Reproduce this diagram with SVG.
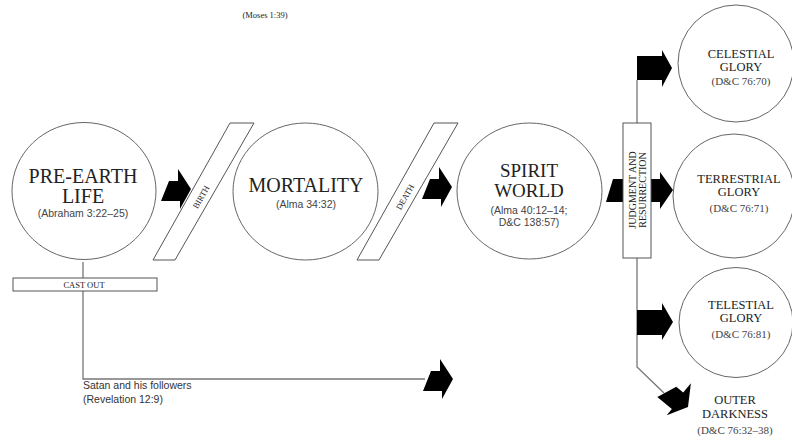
<svg xmlns="http://www.w3.org/2000/svg" width="792" height="438" viewBox="0 0 792 438">
<style>
.c{fill:#fff;stroke:#666;stroke-width:1}
.band{fill:#fff;stroke:#555;stroke-width:1}
.ln{fill:none;stroke:#777;stroke-width:1.3}
.blk{fill:#000}
.t{font-family:"Liberation Serif",serif;fill:#222;text-anchor:middle}
.big{font-size:20px}
.med{font-size:12.5px}
.ref{font-family:"Liberation Sans",sans-serif;font-size:10.5px;fill:#444;text-anchor:middle}
.sref{font-family:"Liberation Serif",serif;font-size:11px;fill:#444;text-anchor:middle}
.sm{font-family:"Liberation Serif",serif;font-size:8.5px;fill:#222;text-anchor:middle}
</style>
<defs>
<path id="arr" d="M-22,-8 L-13,-8 L-13,-20 L0,0 L-11,20 L-11,12 L-30,12 Z"/>
</defs>
<text class="sm" x="265" y="18" font-size="9">(Moses 1:39)</text>
<g id="connectors">
<path class="ln" d="M83,262 V379 H425"/>
<path class="ln" d="M637,80 V367 L664,393"/>
<use href="#arr" class="blk" transform="translate(191,189)"/>
<use href="#arr" class="blk" transform="translate(452,187)"/>
<use href="#arr" class="blk" transform="translate(453,379)"/>
<use href="#arr" class="blk" transform="translate(688,407) rotate(40)"/>
<path class="blk" d="M613,179 L660,179 L660,172 L673,190 L660,209 L660,202 L606,202 Z"/>
<path class="blk" d="M637,56 L662,56 L662,50 L672,68 L662,87 L662,80 L637,80 Z"/>
<path class="blk" d="M637,310 L662,310 L662,303 L673,322 L662,340 L662,335 L637,335 Z"/>
</g>
<g id="pre-earth">
<ellipse class="c" cx="84" cy="191" rx="72" ry="68.5"/>
<text class="t big" x="83" y="183">PRE-EARTH</text>
<text class="t big" x="83" y="203">LIFE</text>
<text class="ref" x="83" y="217">(Abraham 3:22–25)</text>
</g>
<g id="cast-out">
<rect class="band" x="13" y="278" width="144" height="13"/>
<text class="sm" x="84" y="288">CAST OUT</text>
</g>
<g id="birth">
<polygon class="band" points="230,123 254,123 175,260 153,260"/>
<text class="sm" transform="translate(201,197) rotate(-60.5)" y="3">BIRTH</text>
</g>
<g id="mortality">
<ellipse class="c" cx="305.5" cy="191.5" rx="72.5" ry="68.5"/>
<text class="t big" x="306" y="192">MORTALITY</text>
<text class="ref" x="306" y="208">(Alma 34:32)</text>
</g>
<g id="death">
<polygon class="band" points="434,123 458,123 379,260 357,260"/>
<text class="sm" transform="translate(405,197) rotate(-60.5)" y="3">DEATH</text>
</g>
<g id="spirit-world">
<ellipse class="c" cx="529.5" cy="191" rx="72.5" ry="68"/>
<text class="t" font-size="19" x="529" y="177">SPIRIT</text>
<text class="t" font-size="19" x="529" y="197">WORLD</text>
<text class="ref" x="529" y="214">(Alma 40:12–14;</text>
<text class="ref" x="529" y="226">D&amp;C 138:57)</text>
</g>
<g id="judgment">
<rect class="band" x="623" y="123" width="28" height="135"/>
<text class="t" font-size="10" transform="translate(637,190) rotate(-90)" y="-1.5">JUDGMENT AND</text>
<text class="t" font-size="10" transform="translate(637,190) rotate(-90)" y="9">RESURRECTION</text>
</g>
<g id="celestial">
<ellipse class="c" cx="736" cy="63.5" rx="58" ry="58.5"/>
<text class="t med" x="741" y="57.5">CELESTIAL</text>
<text class="t med" x="741" y="71">GLORY</text>
<text class="sref" x="741" y="85">(D&amp;C 76:70)</text>
</g>
<g id="terrestrial">
<ellipse class="c" cx="734" cy="196" rx="61" ry="62"/>
<text class="t med" x="739" y="182.5">TERRESTRIAL</text>
<text class="t med" x="739" y="196">GLORY</text>
<text class="sref" x="739" y="212">(D&amp;C 76:71)</text>
</g>
<g id="telestial">
<ellipse class="c" cx="736" cy="322.5" rx="57" ry="55"/>
<text class="t med" x="741" y="308.5">TELESTIAL</text>
<text class="t med" x="741" y="322">GLORY</text>
<text class="sref" x="741" y="338">(D&amp;C 76:81)</text>
</g>
<g id="outer-darkness">
<text class="t med" x="735" y="404">OUTER</text>
<text class="t med" x="735" y="418">DARKNESS</text>
<text class="sref" x="735" y="434">(D&amp;C 76:32–38)</text>
</g>
<g id="satan">
<text font-family="Liberation Sans, sans-serif" font-size="10.5" fill="#333" x="83" y="389">Satan and his followers</text>
<text font-family="Liberation Sans, sans-serif" font-size="10.5" fill="#333" x="83" y="403">(Revelation 12:9)</text>
</g>
</svg>
